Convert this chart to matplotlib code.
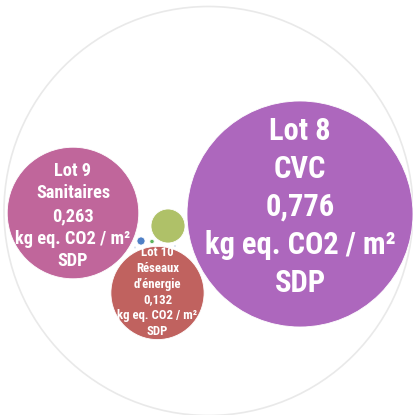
import matplotlib
matplotlib.use("Agg")
import matplotlib.pyplot as plt
from matplotlib.patches import Circle
from matplotlib import font_manager
import numpy as np

# Data
lots = ["Lot 8\nCVC", "Lot 9\nSanitaires", "Lot 10\nRéseaux\nd\u2019énergie", "Autre A", "Autre B", "Autre C"]
values = [0.776, 0.263, 0.132, 0.0176, 0.0010, 0.0003]
value_labels = ["0,776", "0,263", "0,132", "", "", ""]
unit_label = "kg eq. CO2 / m\u00b2\nSDP"

# Layout (bubble packing positions in pixel space)
centers_x = [300, 73, 157.5, 168, 141, 152]
centers_y = [214, 213, 293, 226, 241, 241.5]
text_y = [207, 216, 292, 0, 0, 0]
colors = ["#AD67BD", "#C0669B", "#C0625F", "#AFC168", "#4F80C6", "#5DB35D"]
font_sizes = [22, 13.2, 9.2, 0, 0, 0]
line_sp = [1.33, 1.33, 1.28, 1, 1, 1]
show_text = [True, True, True, False, False, False]

fams = set(f.name for f in font_manager.fontManager.ttflist)
fam = "DejaVu Sans"
for cand in ["Liberation Sans Narrow", "Arial Narrow", "Roboto Condensed", "Archivo Narrow",
             "PT Sans Narrow", "Open Sans Condensed", "Barlow Semi Condensed"]:
    if cand in fams:
        fam = cand
        break

fig = plt.figure(figsize=(4.13, 4.15), dpi=100)
ax = fig.add_axes([0, 0, 1, 1])
ax.set_xlim(0, 413)
ax.set_ylim(415, 0)
ax.set_aspect("equal")
ax.axis("off")

# outer boundary circle
ax.add_patch(Circle((208.5, 211), 204.5, fill=False, edgecolor="#E9E9E9", linewidth=1.2))

scale = 113.0 / np.sqrt(values[0])
for i, v in enumerate(values):
    r = scale * np.sqrt(v)
    ax.add_patch(Circle((centers_x[i], centers_y[i]), r, facecolor=colors[i],
                        edgecolor="white", linewidth=0.6))
    if show_text[i]:
        txt = lots[i] + "\n" + value_labels[i] + "\n" + unit_label
        ax.text(centers_x[i], text_y[i], txt, ha="center", va="center",
                color="white", fontsize=font_sizes[i], fontweight="bold",
                family=[fam, "DejaVu Sans"], linespacing=line_sp[i])

# faint specks
ax.add_patch(Circle((135, 247.5), 1.0, facecolor="#D8E2F0", edgecolor="none"))
ax.add_patch(Circle((175, 246), 1.0, facecolor="#D8E2F0", edgecolor="none"))

fig.savefig("out.png", dpi=100)
